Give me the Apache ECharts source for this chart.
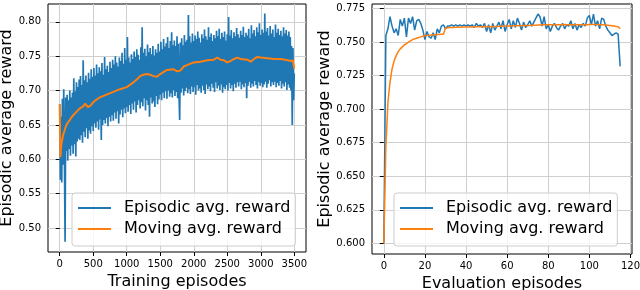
<!DOCTYPE html>
<html><head><meta charset="utf-8">
<script src="https://cdn.jsdelivr.net/npm/echarts@6/dist/echarts.min.js"></script>
<style>html,body{margin:0;padding:0;background:#fff}#c{width:640px;height:290px}</style>
</head><body><div id="c"></div>
<script>
const seriesNames = ['Episodic avg. reward', 'Moving avg. reward'];

// Left panel: training episodes (one value every leftStep episodes)
const leftStep = 10;
const leftEpisodic = [
  0.680, 0.570, 0.662, 0.566, 0.688, 0.592, 0.702, 0.603, 0.480, 0.690,
  0.612, 0.694, 0.598, 0.686, 0.615, 0.700, 0.605, 0.690, 0.620, 0.697,
  0.608, 0.718, 0.622, 0.699, 0.604, 0.712, 0.626, 0.705, 0.630, 0.716,
  0.628, 0.721, 0.635, 0.708, 0.624, 0.744, 0.640, 0.715, 0.632, 0.722,
  0.645, 0.712, 0.630, 0.726, 0.642, 0.717, 0.637, 0.731, 0.648, 0.720,
  0.641, 0.733, 0.652, 0.722, 0.646, 0.738, 0.655, 0.725, 0.643, 0.734,
  0.658, 0.728, 0.628, 0.740, 0.650, 0.723, 0.657, 0.749, 0.652, 0.731,
  0.660, 0.736, 0.648, 0.727, 0.662, 0.742, 0.655, 0.733, 0.664, 0.745,
  0.656, 0.738, 0.668, 0.750, 0.659, 0.741, 0.670, 0.735, 0.652, 0.748,
  0.665, 0.743, 0.672, 0.755, 0.661, 0.739, 0.674, 0.762, 0.667, 0.745,
  0.676, 0.778, 0.669, 0.748, 0.679, 0.741, 0.666, 0.753, 0.681, 0.746,
  0.672, 0.757, 0.684, 0.749, 0.668, 0.760, 0.679, 0.752, 0.686, 0.745,
  0.674, 0.763, 0.683, 0.792, 0.677, 0.755, 0.689, 0.761, 0.671, 0.750,
  0.686, 0.767, 0.679, 0.756, 0.662, 0.762, 0.690, 0.753, 0.681, 0.765,
  0.684, 0.751, 0.676, 0.760, 0.692, 0.755, 0.680, 0.768, 0.687, 0.757,
  0.694, 0.771, 0.686, 0.760, 0.697, 0.775, 0.689, 0.764, 0.699, 0.769,
  0.688, 0.778, 0.700, 0.762, 0.691, 0.772, 0.696, 0.785, 0.690, 0.766,
  0.701, 0.773, 0.692, 0.765, 0.698, 0.779, 0.689, 0.768, 0.694, 0.657,
  0.770, 0.697, 0.776, 0.703, 0.766, 0.693, 0.781, 0.699, 0.771, 0.704,
  0.774, 0.696, 0.810, 0.702, 0.779, 0.695, 0.770, 0.706, 0.783, 0.698,
  0.772, 0.705, 0.780, 0.694, 0.775, 0.708, 0.786, 0.700, 0.777, 0.703,
  0.770, 0.697, 0.782, 0.707, 0.776, 0.701, 0.789, 0.695, 0.779, 0.709,
  0.774, 0.702, 0.792, 0.706, 0.778, 0.699, 0.783, 0.710, 0.772, 0.704,
  0.781, 0.698, 0.776, 0.712, 0.787, 0.703, 0.779, 0.707, 0.790, 0.701,
  0.775, 0.709, 0.784, 0.697, 0.778, 0.705, 0.786, 0.702, 0.773, 0.708,
  0.782, 0.700, 0.807, 0.711, 0.780, 0.703, 0.788, 0.708, 0.776, 0.699,
  0.785, 0.710, 0.779, 0.704, 0.791, 0.712, 0.782, 0.706, 0.777, 0.713,
  0.787, 0.702, 0.781, 0.709, 0.793, 0.705, 0.778, 0.711, 0.784, 0.689,
  0.780, 0.707, 0.790, 0.713, 0.776, 0.704, 0.795, 0.710, 0.783, 0.706,
  0.788, 0.714, 0.779, 0.708, 0.792, 0.703, 0.785, 0.712, 0.798, 0.707,
  0.781, 0.711, 0.789, 0.705, 0.784, 0.709, 0.812, 0.713, 0.786, 0.704,
  0.791, 0.710, 0.780, 0.715, 0.794, 0.706, 0.783, 0.712, 0.789, 0.708,
  0.778, 0.713, 0.796, 0.705, 0.784, 0.711, 0.790, 0.707, 0.781, 0.714,
  0.787, 0.703, 0.779, 0.710, 0.792, 0.706, 0.783, 0.712, 0.788, 0.701,
  0.780, 0.709, 0.786, 0.704, 0.778, 0.700, 0.765, 0.650, 0.762, 0.686,
  0.725
];
const leftMovingEp = [0, 10, 25, 50, 75, 100, 125, 150, 175, 200, 250, 300, 350, 380, 420, 460, 500, 550, 600, 700,
  800, 900, 1000, 1100, 1150, 1200, 1250, 1300, 1350, 1400, 1450, 1500, 1600, 1700, 1750, 1800, 1850, 1900, 2000, 2100,
  2200, 2300, 2350, 2400, 2450, 2500, 2550, 2600, 2650, 2700, 2800, 2850, 2900, 2950, 3000, 3100, 3200, 3300, 3400, 3450,
  3480, 3500];
const leftMovingVal = [0.680, 0.603, 0.622, 0.635, 0.643, 0.650, 0.654, 0.657, 0.661, 0.664, 0.669, 0.674, 0.677, 0.681, 0.676, 0.678, 0.683, 0.687, 0.690, 0.694,
  0.698, 0.702, 0.705, 0.712, 0.716, 0.721, 0.723, 0.724, 0.723, 0.721, 0.720, 0.724, 0.730, 0.731, 0.728, 0.729, 0.735, 0.737, 0.741, 0.742,
  0.744, 0.745, 0.748, 0.745, 0.744, 0.741, 0.743, 0.746, 0.748, 0.746, 0.745, 0.742, 0.746, 0.749, 0.748, 0.747, 0.746, 0.746, 0.744, 0.743,
  0.744, 0.732];

// Right panel: evaluation episodes 0..115
const rightEpisodic = [
  0.600, 0.755, 0.760, 0.769, 0.762, 0.757, 0.760, 0.755, 0.767, 0.762,
  0.768, 0.754, 0.768, 0.764, 0.769, 0.759, 0.766, 0.767, 0.764, 0.759,
  0.752, 0.758, 0.754, 0.753, 0.757, 0.752, 0.760, 0.757, 0.762, 0.763,
  0.760, 0.762, 0.762, 0.763, 0.762, 0.763, 0.762, 0.763, 0.762, 0.763,
  0.762, 0.763, 0.762, 0.763, 0.761, 0.764, 0.762, 0.763, 0.761, 0.764,
  0.758, 0.763, 0.757, 0.764, 0.759, 0.762, 0.765, 0.760, 0.766, 0.758,
  0.763, 0.767, 0.760, 0.766, 0.761, 0.768, 0.764, 0.759, 0.765, 0.761,
  0.763, 0.766, 0.762, 0.765, 0.768, 0.771, 0.769, 0.762, 0.769, 0.760,
  0.763, 0.758, 0.762, 0.764, 0.761, 0.759, 0.762, 0.764, 0.760, 0.763,
  0.762, 0.766, 0.760, 0.764, 0.759, 0.763, 0.761, 0.764, 0.762, 0.768,
  0.770, 0.763, 0.771, 0.762, 0.766, 0.760, 0.768, 0.767, 0.762, 0.759,
  0.757, 0.755, 0.756, 0.757, 0.756, 0.732
];
const rightMoving = [
  0.600, 0.672, 0.705, 0.720, 0.730, 0.736, 0.740, 0.743, 0.745, 0.7465,
  0.748, 0.749, 0.750, 0.751, 0.752, 0.7525, 0.753, 0.7535, 0.754, 0.7545,
  0.755, 0.755, 0.7552, 0.7553, 0.7555, 0.7555, 0.7557, 0.7558, 0.756, 0.756,
  0.7605, 0.7607, 0.7609, 0.761, 0.761, 0.7611, 0.7612, 0.7612, 0.7613, 0.7613,
  0.7613, 0.7614, 0.7614, 0.7614, 0.7615, 0.7615, 0.7616, 0.7616, 0.7616, 0.7617,
  0.7616, 0.7617, 0.7616, 0.7617, 0.7618, 0.7618, 0.7619, 0.7619, 0.762, 0.762,
  0.762, 0.7621, 0.7621, 0.7622, 0.7622, 0.7623, 0.7623, 0.7623, 0.7624, 0.7624,
  0.7625, 0.7625, 0.7626, 0.7626, 0.7627, 0.7628, 0.7629, 0.763, 0.763, 0.7631,
  0.763, 0.763, 0.763, 0.763, 0.763, 0.763, 0.7631, 0.7631, 0.7632, 0.7631,
  0.7631, 0.7631, 0.763, 0.763, 0.763, 0.763, 0.763, 0.763, 0.763, 0.7631,
  0.7632, 0.7632, 0.7633, 0.7632, 0.7632, 0.7631, 0.763, 0.763, 0.7628, 0.7626,
  0.7624, 0.7622, 0.762, 0.7618, 0.7615, 0.760
];

const leftXTicks = [0, 500, 1000, 1500, 2000, 2500, 3000, 3500];
const leftYTicks = [0.50, 0.55, 0.60, 0.65, 0.70, 0.75, 0.80];
const rightXTicks = [0, 20, 40, 60, 80, 100, 120];
const rightYTicks = [0.600, 0.625, 0.650, 0.675, 0.700, 0.725, 0.750, 0.775];

const FONT = 'DejaVu Sans';
const BLUE = '#1f77b4', ORANGE = '#ff7f0e';

function xAxis(gridIndex, min, max, ticks, name) {
  return {
    type: 'value', gridIndex, min, max, name, nameLocation: 'middle', nameGap: 21,
    nameTextStyle: { fontFamily: FONT, fontSize: 16, color: '#000' },
    axisLine: { show: false },
    axisTick: { show: true, inside: false, length: 4, customValues: ticks, lineStyle: { color: '#000', width: 1 } },
    axisLabel: { customValues: ticks, fontFamily: FONT, fontSize: 10, color: '#000', margin: 7, formatter: v => String(v) },
    splitLine: { show: true, lineStyle: { color: '#cfcfcf', width: 1 } }
  };
}
function yAxis(gridIndex, min, max, ticks, digits, nameGap) {
  return {
    type: 'value', gridIndex, min, max, name: 'Episodic average reward', nameLocation: 'middle', nameGap,
    nameTextStyle: { fontFamily: FONT, fontSize: 16, color: '#000' },
    axisLine: { show: false },
    axisTick: { show: true, inside: false, length: 4, customValues: ticks, lineStyle: { color: '#000', width: 1 } },
    axisLabel: { customValues: ticks, fontFamily: FONT, fontSize: 10, color: '#000', margin: 7, formatter: v => v.toFixed(digits) },
    splitLine: { show: true, lineStyle: { color: '#cfcfcf', width: 1 } }
  };
}
function legend(left) {
  return {
    data: seriesNames, left, top: 193, orient: 'vertical', icon: 'rect',
    itemWidth: 33, itemHeight: 2, itemGap: 3, padding: [6, 5, 8, 6],
    backgroundColor: 'rgba(255,255,255,0.8)', borderColor: '#cccccc', borderWidth: 1, borderRadius: 3,
    textStyle: { fontFamily: FONT, fontSize: 16, color: '#000', lineHeight: 18, padding: [0, 0, 0, 8] }
  };
}

const chart = echarts.init(document.getElementById('c'), null, { renderer: 'canvas' });
chart.setOption({
  animation: false,
  backgroundColor: '#fff',
  grid: [
    { left: 48, top: 4, width: 258, height: 248, outerBoundsMode: 'none', containLabel: false, show: true, borderColor: '#000', borderWidth: 1, backgroundColor: 'transparent' },
    { left: 372, top: 4, width: 260, height: 250, outerBoundsMode: 'none', containLabel: false, show: true, borderColor: '#000', borderWidth: 1, backgroundColor: 'transparent' }
  ],
  xAxis: [
    xAxis(0, -175, 3675, leftXTicks, 'Training episodes'),
    xAxis(1, -5.75, 120.75, rightXTicks, 'Evaluation episodes')
  ],
  yAxis: [
    yAxis(0, 0.465, 0.826, leftYTicks, 2, 33),
    yAxis(1, 0.592, 0.7785, rightYTicks, 3, 37)
  ],
  legend: [legend(72), legend(394)],
  series: [
    { name: seriesNames[0], type: 'line', xAxisIndex: 0, yAxisIndex: 0, showSymbol: false, symbol: 'none',
      lineStyle: { color: BLUE, width: 1.7 }, itemStyle: { color: BLUE },
      data: leftEpisodic.map((v, i) => [i * leftStep, v]) },
    { name: seriesNames[1], type: 'line', xAxisIndex: 0, yAxisIndex: 0, showSymbol: false, symbol: 'none',
      lineStyle: { color: ORANGE, width: 2 }, itemStyle: { color: ORANGE },
      data: leftMovingEp.map((e, i) => [e, leftMovingVal[i]]) },
    { name: seriesNames[0], type: 'line', xAxisIndex: 1, yAxisIndex: 1, showSymbol: false, symbol: 'none',
      lineStyle: { color: BLUE, width: 1.5 }, itemStyle: { color: BLUE },
      data: rightEpisodic.map((v, i) => [i, v]) },
    { name: seriesNames[1], type: 'line', xAxisIndex: 1, yAxisIndex: 1, showSymbol: false, symbol: 'none',
      lineStyle: { color: ORANGE, width: 1.5 }, itemStyle: { color: ORANGE },
      data: rightMoving.map((v, i) => [i, v]) }
  ]
});
</script>
</body></html>
